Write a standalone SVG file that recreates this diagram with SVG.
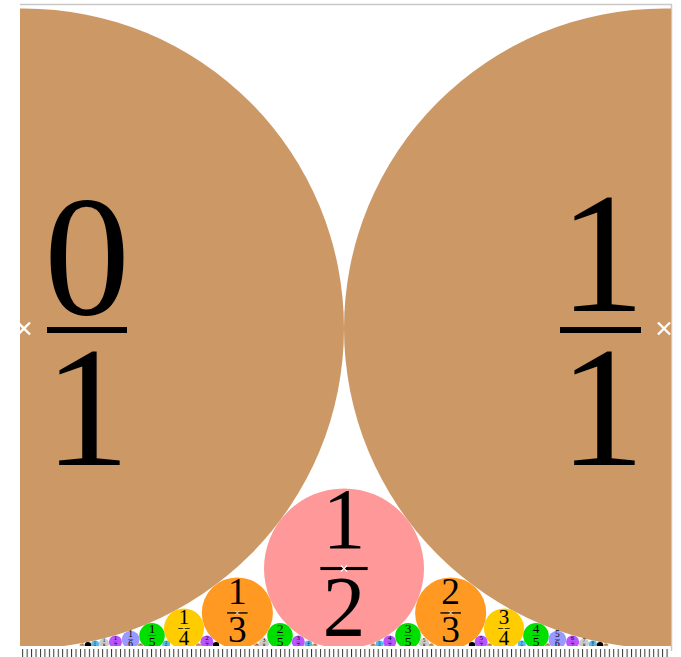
<svg xmlns="http://www.w3.org/2000/svg" width="681" height="657" viewBox="0 0 681 657">
<style>
text{font-family:"Liberation Serif","Times New Roman",serif;text-anchor:middle;fill:#000}
.q1{fill:#CC9966}.q2{fill:#FF9999}.q3{fill:#FF9922}.q4{fill:#FFCC00}.q5{fill:#00E000}
.q6{fill:#9999FF}.q7{fill:#BB55FF}.q8{fill:#CCCCCC}.q9{fill:#55BBEE}.q10{fill:#000}.q11{fill:#CC9966}
.x{stroke:#fff;fill:none}
.bar{fill:#000}
</style>
<defs>
<clipPath id="clip"><rect x="20" y="4.5" width="651" height="641.5"/></clipPath>
<pattern id="ticks" patternUnits="userSpaceOnUse" x="22.2" y="0" width="4.444" height="20">
<rect x="0" y="0" width="1" height="20" fill="#333"/>
</pattern>
</defs>
<rect width="681" height="657" fill="#fff"/>
<line x1="20" y1="4.5" x2="672" y2="4.5" stroke="#c8c8c8" stroke-width="1.5"/>
<line x1="671.5" y1="4" x2="671.5" y2="651" stroke="#c8c8c8" stroke-width="1.5"/>
<rect x="20" y="649" width="651" height="8" fill="url(#ticks)"/>
<g clip-path="url(#clip)">
<g id="n0_1"><circle class="q1" cx="24" cy="328.5" r="320"/><text x="87" y="314" font-size="172">0</text><rect class="bar" x="47" y="327" width="80" height="6"/><text x="87" y="465" font-size="172">1</text><path class="x" stroke-width="2.4" d="M18 322.5L30 334.5M30 322.5L18 334.5"/></g>
<g id="n1_1"><circle class="q1" cx="664" cy="328.5" r="320"/><text x="602" y="311" font-size="172">1</text><rect class="bar" x="560" y="327" width="81" height="6"/><text x="602" y="465" font-size="172">1</text><path class="x" stroke-width="2.4" d="M658 322.5L670 334.5M670 322.5L658 334.5"/></g>
<g id="n1_2"><circle class="q2" cx="344" cy="568.5" r="80"/><text x="344" y="548" font-size="86">1</text><rect class="bar" x="320.35" y="566.95" width="47.3" height="3.1"/><text x="344" y="636.4" font-size="86">2</text><path class="x" stroke-width="1.2" d="M341 565.5L347 571.5M347 565.5L341 571.5"/></g>
<g id="n1_3"><circle class="q3" cx="237.33" cy="612.94" r="35.556"/><text x="237.33" y="604.35" font-size="37.33">1</text><rect class="bar" x="227.06" y="612.27" width="20.53" height="1.34"/><text x="237.33" y="642.43" font-size="37.33">3</text><path class="x" stroke-width="0.8" d="M235.33 610.94l4 4m0 -4l-4 4"/></g>
<g id="n2_3"><circle class="q3" cx="450.67" cy="612.94" r="35.556"/><text x="450.67" y="604.35" font-size="37.33">2</text><rect class="bar" x="440.4" y="612.27" width="20.53" height="1.34"/><text x="450.67" y="642.43" font-size="37.33">3</text><path class="x" stroke-width="0.8" d="M448.67 610.94l4 4m0 -4l-4 4"/></g>
<g id="n1_4"><circle class="q4" cx="184" cy="628.5" r="20"/><text x="184" y="623.67" font-size="21">1</text><rect class="bar" x="178.23" y="628.12" width="11.55" height="0.76"/><text x="184" y="645.09" font-size="21">4</text><path class="x" stroke-width="0.6" d="M182.5 627l3 3m0 -3l-3 3"/></g>
<g id="n3_4"><circle class="q4" cx="504" cy="628.5" r="20"/><text x="504" y="623.67" font-size="21">3</text><rect class="bar" x="498.23" y="628.12" width="11.55" height="0.76"/><text x="504" y="645.09" font-size="21">4</text><path class="x" stroke-width="0.6" d="M502.5 627l3 3m0 -3l-3 3"/></g>
<g id="n1_5"><circle class="q5" cx="152" cy="635.7" r="12.8"/><text x="152" y="632.61" font-size="13.44">1</text><rect class="bar" x="148.3" y="635.46" width="7.39" height="0.48"/><text x="152" y="646.32" font-size="13.44">5</text></g>
<g id="n2_5"><circle class="q5" cx="280" cy="635.7" r="12.8"/><text x="280" y="632.61" font-size="13.44">2</text><rect class="bar" x="276.3" y="635.46" width="7.39" height="0.48"/><text x="280" y="646.32" font-size="13.44">5</text></g>
<g id="n3_5"><circle class="q5" cx="408" cy="635.7" r="12.8"/><text x="408" y="632.61" font-size="13.44">3</text><rect class="bar" x="404.3" y="635.46" width="7.39" height="0.48"/><text x="408" y="646.32" font-size="13.44">5</text></g>
<g id="n4_5"><circle class="q5" cx="536" cy="635.7" r="12.8"/><text x="536" y="632.61" font-size="13.44">4</text><rect class="bar" x="532.3" y="635.46" width="7.39" height="0.48"/><text x="536" y="646.32" font-size="13.44">5</text></g>
<g id="n1_6"><circle class="q6" cx="130.67" cy="639.61" r="8.889"/><text x="130.67" y="637.46" font-size="9.33">1</text><rect class="bar" x="128.1" y="639.44" width="5.13" height="0.34"/><text x="130.67" y="646.98" font-size="9.33">6</text></g>
<g id="n5_6"><circle class="q6" cx="557.33" cy="639.61" r="8.889"/><text x="557.33" y="637.46" font-size="9.33">5</text><rect class="bar" x="554.76" y="639.44" width="5.13" height="0.34"/><text x="557.33" y="646.98" font-size="9.33">6</text></g>
<g id="n1_7"><circle class="q7" cx="115.43" cy="641.97" r="6.531"/><text x="115.43" y="640.39" font-size="6.86">1</text><rect class="bar" x="113.54" y="641.85" width="3.77" height="0.25"/><text x="115.43" y="647.39" font-size="6.86">7</text></g>
<g id="n2_7"><circle class="q7" cx="206.86" cy="641.97" r="6.531"/><text x="206.86" y="640.39" font-size="6.86">2</text><rect class="bar" x="204.97" y="641.85" width="3.77" height="0.25"/><text x="206.86" y="647.39" font-size="6.86">7</text></g>
<g id="n3_7"><circle class="q7" cx="298.29" cy="641.97" r="6.531"/><text x="298.29" y="640.39" font-size="6.86">3</text><rect class="bar" x="296.4" y="641.85" width="3.77" height="0.25"/><text x="298.29" y="647.39" font-size="6.86">7</text></g>
<g id="n4_7"><circle class="q7" cx="389.71" cy="641.97" r="6.531"/><text x="389.71" y="640.39" font-size="6.86">4</text><rect class="bar" x="387.82" y="641.85" width="3.77" height="0.25"/><text x="389.71" y="647.39" font-size="6.86">7</text></g>
<g id="n5_7"><circle class="q7" cx="481.14" cy="641.97" r="6.531"/><text x="481.14" y="640.39" font-size="6.86">5</text><rect class="bar" x="479.25" y="641.85" width="3.77" height="0.25"/><text x="481.14" y="647.39" font-size="6.86">7</text></g>
<g id="n6_7"><circle class="q7" cx="572.57" cy="641.97" r="6.531"/><text x="572.57" y="640.39" font-size="6.86">6</text><rect class="bar" x="570.68" y="641.85" width="3.77" height="0.25"/><text x="572.57" y="647.39" font-size="6.86">7</text></g>
<g id="n1_8"><circle class="q8" cx="104" cy="643.5" r="5"/><text x="104" y="642.29" font-size="5.25">1</text><rect class="bar" x="102.56" y="643.41" width="2.89" height="0.19"/><text x="104" y="647.65" font-size="5.25">8</text></g>
<g id="n3_8"><circle class="q8" cx="264" cy="643.5" r="5"/><text x="264" y="642.29" font-size="5.25">3</text><rect class="bar" x="262.56" y="643.41" width="2.89" height="0.19"/><text x="264" y="647.65" font-size="5.25">8</text></g>
<g id="n5_8"><circle class="q8" cx="424" cy="643.5" r="5"/><text x="424" y="642.29" font-size="5.25">5</text><rect class="bar" x="422.56" y="643.41" width="2.89" height="0.19"/><text x="424" y="647.65" font-size="5.25">8</text></g>
<g id="n7_8"><circle class="q8" cx="584" cy="643.5" r="5"/><text x="584" y="642.29" font-size="5.25">7</text><rect class="bar" x="582.56" y="643.41" width="2.89" height="0.19"/><text x="584" y="647.65" font-size="5.25">8</text></g>
<g id="n1_9"><circle class="q9" cx="95.11" cy="644.55" r="3.951"/><text x="95.11" y="643.6" font-size="4.15">1</text><rect class="bar" x="93.97" y="644.48" width="2.28" height="0.15"/><text x="95.11" y="647.83" font-size="4.15">9</text></g>
<g id="n2_9"><circle class="q9" cx="166.22" cy="644.55" r="3.951"/><text x="166.22" y="643.6" font-size="4.15">2</text><rect class="bar" x="165.08" y="644.48" width="2.28" height="0.15"/><text x="166.22" y="647.83" font-size="4.15">9</text></g>
<g id="n4_9"><circle class="q9" cx="308.44" cy="644.55" r="3.951"/><text x="308.44" y="643.6" font-size="4.15">4</text><rect class="bar" x="307.3" y="644.48" width="2.28" height="0.15"/><text x="308.44" y="647.83" font-size="4.15">9</text></g>
<g id="n5_9"><circle class="q9" cx="379.56" cy="644.55" r="3.951"/><text x="379.56" y="643.6" font-size="4.15">5</text><rect class="bar" x="378.42" y="644.48" width="2.28" height="0.15"/><text x="379.56" y="647.83" font-size="4.15">9</text></g>
<g id="n7_9"><circle class="q9" cx="521.78" cy="644.55" r="3.951"/><text x="521.78" y="643.6" font-size="4.15">7</text><rect class="bar" x="520.64" y="644.48" width="2.28" height="0.15"/><text x="521.78" y="647.83" font-size="4.15">9</text></g>
<g id="n8_9"><circle class="q9" cx="592.89" cy="644.55" r="3.951"/><text x="592.89" y="643.6" font-size="4.15">8</text><rect class="bar" x="591.75" y="644.48" width="2.28" height="0.15"/><text x="592.89" y="647.83" font-size="4.15">9</text></g>
<g id="n1_10"><circle class="q10" cx="88" cy="645.3" r="3.2"/><text x="88" y="644.53" font-size="3.36">1</text><text x="88" y="647.95" font-size="3.36">10</text></g>
<g id="n3_10"><circle class="q10" cx="216" cy="645.3" r="3.2"/><text x="216" y="644.53" font-size="3.36">3</text><text x="216" y="647.95" font-size="3.36">10</text></g>
<g id="n7_10"><circle class="q10" cx="472" cy="645.3" r="3.2"/><text x="472" y="644.53" font-size="3.36">7</text><text x="472" y="647.95" font-size="3.36">10</text></g>
<g id="n9_10"><circle class="q10" cx="600" cy="645.3" r="3.2"/><text x="600" y="644.53" font-size="3.36">9</text><text x="600" y="647.95" font-size="3.36">10</text></g>
<g id="n1_11"><circle class="q11" cx="82.18" cy="645.86" r="2.645"/><text x="82.18" y="645.22" font-size="2.78">1</text></g>
<g id="n2_11"><circle class="q11" cx="140.36" cy="645.86" r="2.645"/><text x="140.36" y="645.22" font-size="2.78">2</text></g>
<g id="n3_11"><circle class="q11" cx="198.55" cy="645.86" r="2.645"/><text x="198.55" y="645.22" font-size="2.78">3</text></g>
<g id="n4_11"><circle class="q11" cx="256.73" cy="645.86" r="2.645"/><text x="256.73" y="645.22" font-size="2.78">4</text></g>
<g id="n5_11"><circle class="q11" cx="314.91" cy="645.86" r="2.645"/><text x="314.91" y="645.22" font-size="2.78">5</text></g>
<g id="n6_11"><circle class="q11" cx="373.09" cy="645.86" r="2.645"/><text x="373.09" y="645.22" font-size="2.78">6</text></g>
<g id="n7_11"><circle class="q11" cx="431.27" cy="645.86" r="2.645"/><text x="431.27" y="645.22" font-size="2.78">7</text></g>
<g id="n8_11"><circle class="q11" cx="489.45" cy="645.86" r="2.645"/><text x="489.45" y="645.22" font-size="2.78">8</text></g>
<g id="n9_11"><circle class="q11" cx="547.64" cy="645.86" r="2.645"/><text x="547.64" y="645.22" font-size="2.78">9</text></g>
<g id="n10_11"><circle class="q11" cx="605.82" cy="645.86" r="2.645"/><text x="605.82" y="645.22" font-size="2.78">10</text></g>
</g>
</svg>
